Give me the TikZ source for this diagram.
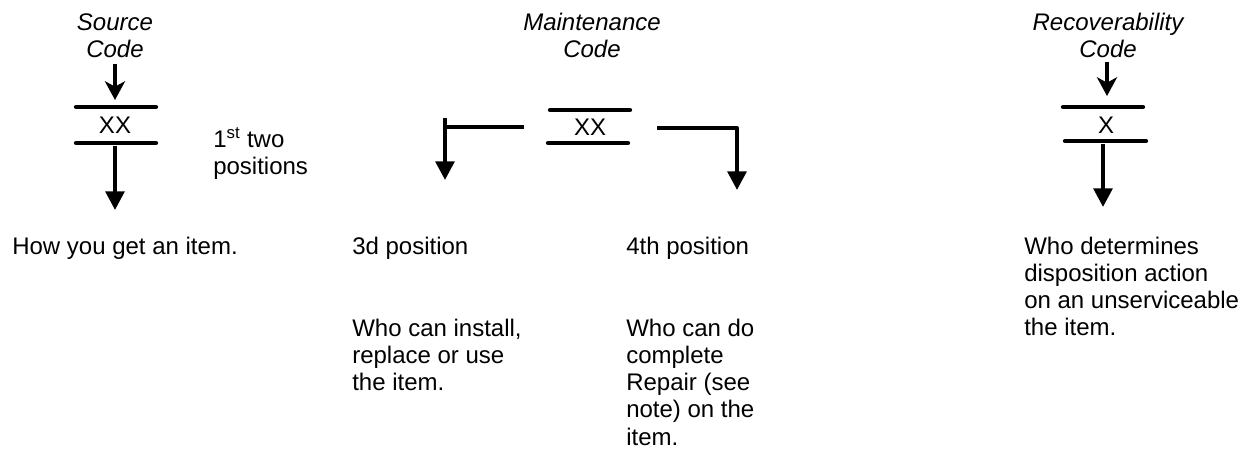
\documentclass[tikz,border=0pt]{standalone}
\usepackage{fontspec}
\setmainfont{Liberation Sans}
\usetikzlibrary{arrows.meta}
\newcommand\codefont{\fontsize{18pt}{20.4pt}\selectfont}
\newcommand\firstln{\rule{0pt}{17pt}}

\begin{document}
\begin{tikzpicture}[x=0.75pt, y=-0.75pt,
    bar/.style={line width=3.2pt, line cap=round},
    feed/.style={line width=3pt, -{Stealth[length=14pt, width=15pt, inset=4pt]}},
    lead/.style={line width=3pt, -{Triangle[length=14pt, width=14pt]}},
    head/.style={inner sep=0pt, anchor=north, align=center, font=\codefont\itshape},
    note/.style={inner sep=0pt, anchor=north west, align=left, font=\codefont},
    word/.style={inner sep=0pt, anchor=base west, font=\codefont},
    codetxt/.style={inner sep=0pt, font=\codefont}]
	%%%%% START %%%%%
	\useasboundingbox (0,0) rectangle (1241,449);
	
	% source code
	\node[head] (srctitle) at (115,7.3) {\firstln Source\\Code};
	\coordinate (srcA) at (115,64);
	\coordinate (srcB) at (115,100);
	\draw[feed] (srcA) -- (srcB);
	\draw[bar] (76,107) -- (156,107);
	\node[codetxt] (srcxx) at (115,125) {XX};
	\draw[bar] (76,143) -- (156,143);
	\coordinate (srcC) at (115,146);
	\coordinate (srcD) at (115,210);
	\draw[lead] (srcC) -- (srcD);
	\node[note] (srcpos) at (213,124.3) {\firstln 1\textsuperscript{st} two\\positions};
	\node[word] (srchow) at (12,254) {How you get an item.};
	
	% maintenance code
	\node[head] (mnttitle) at (592,7.3) {\firstln Maintenance\\Code};
	\draw[bar] (550,110) -- (630,110);
	\node[codetxt] (mntxx) at (590,127) {XX};
	\draw[bar] (548,143) -- (628,143);
	\coordinate (mntL) at (524,127);
	\coordinate (mntLc) at (445,127);
	\coordinate (mntLa) at (445,118);
	\coordinate (mntLb) at (445,180);
	\draw[line width=3pt] (mntL) -- (mntLc);
	\draw[lead] (mntLa) -- (mntLb);
	\coordinate (mntR) at (657,128);
	\coordinate (mntRc) at (737,128);
	\coordinate (mntRb) at (737,190);
	\draw[lead, line join=round] (mntR) -- (mntRc) -- (mntRb);
	\node[word] (mnt3d) at (352,254) {3d position};
	\node[note] (mntuse) at (352,313.3) {\firstln Who can install,\\replace or use\\the item.};
	\node[word] (mnt4th) at (626,254) {4th position};
	\node[note] (mntrep) at (626,313.3) {\firstln Who can do\\complete\\Repair (see\\note) on the\\item.};
	
	% recoverability code
	\node[head] (rectitle) at (1108,7.3) {\firstln Recoverability\\Code};
	\coordinate (recA) at (1107,62);
	\coordinate (recB) at (1107,96);
	\draw[feed] (recA) -- (recB);
	\draw[bar] (1063,107) -- (1143,107);
	\node[codetxt] (recx) at (1106,125) {X};
	\draw[bar] (1065,141) -- (1146,141);
	\coordinate (recC) at (1103,144);
	\coordinate (recD) at (1103,207);
	\draw[lead] (recC) -- (recD);
	\node[note] (recwho) at (1024,231.3) {\firstln Who determines\\disposition action\\on an unserviceable\\the item.};
	%%%%% END %%%%%
\end{tikzpicture}
\end{document}
